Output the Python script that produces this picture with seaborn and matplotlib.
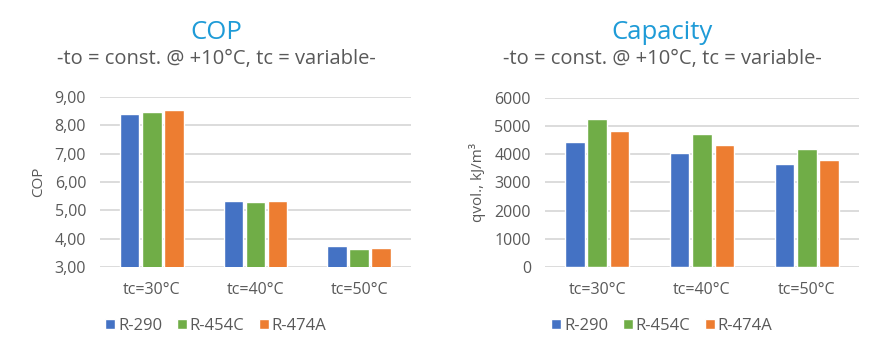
import matplotlib
matplotlib.use("Agg")
import matplotlib.pyplot as plt
import pandas as pd
import seaborn as sns
from matplotlib.ticker import FuncFormatter, MultipleLocator

# Data
conditions = ["tc=30°C", "tc=40°C", "tc=50°C"]
refrigerants = ["R-290", "R-454C", "R-474A"]
cop_r290 = [8.42, 5.33, 3.74]
cop_r454c = [8.46, 5.29, 3.63]
cop_r474a = [8.56, 5.32, 3.67]
cap_r290 = [4420, 4035, 3645]
cap_r454c = [5240, 4710, 4175]
cap_r474a = [4815, 4320, 3785]

colors = ["#4472C4", "#70AD47", "#ED7D31"]
text_col = "#595959"
title_col = "#1E9BD7"
grid_col = "#D9D9D9"


def long_df(a, b, c):
    rows = []
    for name, vals in zip(refrigerants, [a, b, c]):
        for cond, v in zip(conditions, vals):
            rows.append({"cond": cond, "ref": name, "value": v})
    return pd.DataFrame(rows)


df_cop = long_df(cop_r290, cop_r454c, cop_r474a)
df_cap = long_df(cap_r290, cap_r454c, cap_r474a)

sns.set_style("white")
plt.rcParams["font.family"] = ["Open Sans", "DejaVu Sans"]

fig = plt.figure(figsize=(8.83, 3.57), dpi=100)
ax1 = fig.add_axes([0.1133, 0.252, 0.352, 0.476])
ax2 = fig.add_axes([0.617, 0.252, 0.356, 0.474])


def style_axis(ax, ylabel, title, lo, hi, step, fmt, cx):
    ax.set_ylim(lo, hi)
    ax.yaxis.set_major_locator(MultipleLocator(step))
    ax.yaxis.set_major_formatter(FuncFormatter(fmt))
    ax.grid(axis="y", color=grid_col, linewidth=1.3)
    ax.set_axisbelow(True)
    for s in ax.spines.values():
        s.set_visible(False)
    ax.tick_params(axis="x", length=0, labelsize=11.5, colors=text_col, pad=11)
    ax.tick_params(axis="y", length=0, labelsize=11.5, colors=text_col, pad=10)
    ax.set_xlabel("")
    ax.set_ylabel(ylabel, fontsize=11, color=text_col, labelpad=6)
    ax.legend(handles=ax.get_legend_handles_labels()[0], labels=refrigerants,
              loc="center", bbox_to_anchor=(cx, 0.087), bbox_transform=fig.transFigure,
              ncol=3, frameon=False, fontsize=12, labelcolor=text_col,
              handlelength=0.6, handleheight=0.6, handletextpad=0.15,
              columnspacing=0.9, borderaxespad=0)
    fig.text(cx, 0.908, title, ha="center", va="center",
             fontsize=18.5, color=title_col)
    fig.text(cx, 0.836, "-to = const. @ +10°C, tc = variable-",
             ha="center", va="center", fontsize=14.5, color=text_col)


sns.barplot(data=df_cop, x="cond", y="value", hue="ref", palette=colors,
            width=0.64, gap=0.12, ax=ax1, saturation=1)
style_axis(ax1, "COP", "COP", 3, 9, 1, lambda v, p: f"{v:.2f}".replace(".", ","), 0.2446)

sns.barplot(data=df_cap, x="cond", y="value", hue="ref", palette=colors,
            width=0.64, gap=0.12, ax=ax2, saturation=1)
style_axis(ax2, "qvol., kJ/m³", "Capacity", 0, 6000, 1000, lambda v, p: f"{v:.0f}", 0.7497)

fig.savefig("out.png", dpi=100)
